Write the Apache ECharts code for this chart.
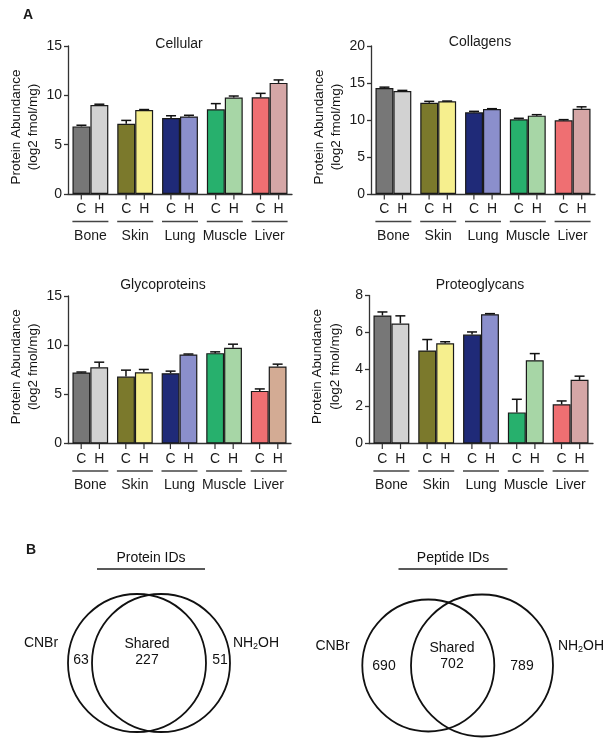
<!DOCTYPE html>
<html><head><meta charset="utf-8">
<script src="https://cdn.jsdelivr.net/npm/echarts@6/dist/echarts.min.js"></script>
<style>html,body{margin:0;padding:0;background:#fff}#c{width:614px;height:747px}</style>
</head><body><div id="c"></div>
<script>
// ---------- data ----------
const tissues = ['Bone', 'Skin', 'Lung', 'Muscle', 'Liver'];
const groupLabels = ['C', 'H'];

const cellularC    = [6.85, 7.12, 7.70, 8.58, 9.80];
const cellularCErr = [0.12, 0.34, 0.23, 0.58, 0.40];
const cellularH    = [9.02, 8.51, 7.86, 9.77, 11.26];
const cellularHErr = [0.08, 0.05, 0.12, 0.16, 0.30];

const collagensC    = [14.32, 12.34, 11.04, 10.09, 9.95];
const collagensCErr = [0.12, 0.18, 0.13, 0.14, 0.10];
const collagensH    = [13.92, 12.52, 11.49, 10.59, 11.53];
const collagensHErr = [0.08, 0.04, 0.04, 0.13, 0.25];

const glycoC    = [7.22, 6.81, 7.15, 9.19, 5.35];
const glycoCErr = [0.05, 0.65, 0.21, 0.13, 0.20];
const glycoH    = [7.76, 7.25, 9.05, 9.73, 7.83];
const glycoHErr = [0.51, 0.28, 0.05, 0.37, 0.24];

const proteoC    = [6.92, 5.03, 5.89, 1.68, 2.12];
const proteoCErr = [0.19, 0.59, 0.14, 0.71, 0.18];
const proteoH    = [6.49, 5.42, 6.99, 4.50, 3.44];
const proteoHErr = [0.41, 0.08, 0.03, 0.36, 0.20];

const yTicksCellular = [0, 5, 10, 15];
const yTicksCollagens = [0, 5, 10, 15, 20];
const yTicksGlyco = [0, 5, 10, 15];
const yTicksProteo = [0, 2, 4, 6, 8];

const proteinCounts = [63, 227, 51];
const peptideCounts = [690, 702, 789];
const setNames = ['CNBr', 'NH2OH'];

// ---------- styles / layout ----------
const FONT = '"Liberation Sans", Arial, Helvetica, sans-serif';
const TXT = '#1a1a1a';
const colorsC = ['#777777', '#7b792c', '#1f2a78', '#27b06d', '#ef6f72'];
const colorsH = ['#d2d2d2', '#f6ef8e', '#8b8fcc', '#a7d6a6', '#d5a6a6'];
const colorsHGlyco = ['#d2d2d2', '#f6ef8e', '#8b8fcc', '#a7d6a6', '#d3ab94'];

const panels = [
  {title: 'Cellular', tx: 179, ty: 37, namePad: [0, 14, 0, 0], grid: {left: 68, top: 46, width: 224, height: 148}, ticks: yTicksCellular, C: cellularC, CE: cellularCErr, H: cellularH, HE: cellularHErr, hc: colorsH},
  {title: 'Collagens', tx: 480, ty: 35, namePad: [0, 14, 0, 0], grid: {left: 371, top: 46, width: 224, height: 148}, ticks: yTicksCollagens, C: collagensC, CE: collagensCErr, H: collagensH, HE: collagensHErr, hc: colorsH},
  {title: 'Glycoproteins', tx: 163, ty: 278, namePad: [0, 0, 0, 6], grid: {left: 68, top: 296, width: 223, height: 147.5}, ticks: yTicksGlyco, C: glycoC, CE: glycoCErr, H: glycoH, HE: glycoHErr, hc: colorsHGlyco},
  {title: 'Proteoglycans', tx: 480, ty: 278, namePad: [0, 0, 0, 6], grid: {left: 369, top: 295.5, width: 224, height: 148}, ticks: yTicksProteo, C: proteoC, CE: proteoCErr, H: proteoH, HE: proteoHErr, hc: colorsH}
];

const xRich = {
  tk: {width: 1.2, height: 5, lineHeight: 6, backgroundColor: '#333'},
  g: {width: 17, height: 5, lineHeight: 6},
  c: {width: 18, align: 'center', fontSize: 14, lineHeight: 19, color: TXT, fontFamily: FONT},
  ln: {width: 36, height: 1.3, lineHeight: 5, backgroundColor: '#444'},
  t: {fontSize: 14, lineHeight: 24, color: TXT, fontFamily: FONT}
};

const grids = [], xAxes = [], yAxes = [], series = [], titles = [];

titles.push({text: 'A', left: 23, top: 8, padding: 0, textStyle: {fontSize: 14, fontWeight: 'bold', color: TXT, fontFamily: FONT}});
titles.push({text: 'B', left: 26, top: 543, padding: 0, textStyle: {fontSize: 14, fontWeight: 'bold', color: TXT, fontFamily: FONT}});

panels.forEach((p, i) => {
  grids.push(Object.assign({containLabel: false, outerBoundsMode: 'none'}, p.grid));
  titles.push({text: p.title, left: p.tx, top: p.ty, textAlign: 'center', padding: 0,
    textStyle: {fontSize: 14, fontWeight: 'normal', color: TXT, fontFamily: FONT}});
  xAxes.push({
    type: 'category', gridIndex: i, data: tissues,
    axisLine: {lineStyle: {color: '#333', width: 1.3}},
    axisTick: {show: false},
    axisLabel: {interval: 0, margin: 0, formatter: v => '{tk|}{g|}{tk|}\n{c|' + groupLabels[0] + '}{c|' + groupLabels[1] + '}\n{ln|}\n{t|' + v + '}', rich: xRich}
  });
  const tk = p.ticks;
  yAxes.push({
    type: 'value', gridIndex: i, min: tk[0], max: tk[tk.length - 1], interval: tk[1] - tk[0],
    axisLine: {show: true, lineStyle: {color: '#333', width: 1.3}},
    axisTick: {show: true, length: 4, lineStyle: {color: '#333', width: 1.3}},
    splitLine: {show: false},
    axisLabel: {fontSize: 14, color: TXT, fontFamily: FONT, margin: 6},
    name: 'Protein Abundance\n(log2 fmol/mg)', nameLocation: 'middle', nameGap: 25,
    nameTextStyle: {fontSize: 13.5, lineHeight: 17.6, color: '#111', fontFamily: FONT, padding: p.namePad}
  });
  const mkBar = (vals, cols, name) => ({
    type: 'bar', name: name, xAxisIndex: i, yAxisIndex: i, data: vals,
    barWidth: '40%', barGap: '0%',
    itemStyle: {color: prm => cols[prm.dataIndex], borderColor: '#1a1a1a', borderWidth: 1.2},
    emphasis: {disabled: true}, z: 2
  });
  series.push(mkBar(p.C, colorsC, 'C'));
  series.push(mkBar(p.H, p.hc, 'H'));
  const errData = [];
  tissues.forEach((t, j) => {
    errData.push([j, p.C[j], p.CE[j], 0]);
    errData.push([j, p.H[j], p.HE[j], 1]);
  });
  series.push({
    type: 'custom', xAxisIndex: i, yAxisIndex: i, data: errData, z: 5,
    encode: {x: 0, y: 1},
    renderItem: (params, api) => {
      const idx = api.value(0), v = api.value(1), e = api.value(2), s = api.value(3);
      const bw = api.size([1, 0])[0];
      const off = (s === 0 ? -0.2 : 0.2) * bw;
      const base = api.coord([idx, v]);
      const top = api.coord([idx, v + e]);
      const x = base[0] + off;
      const st = {stroke: '#111', lineWidth: 1.5};
      return {type: 'group', children: [
        {type: 'line', shape: {x1: x, y1: base[1], x2: x, y2: top[1]}, style: st},
        {type: 'line', shape: {x1: x - 5, y1: top[1], x2: x + 5, y2: top[1]}, style: st}
      ]};
    }
  });
});

// ---------- Venn diagrams ----------
const vennLayout = [
  {title: 'Protein IDs', tx: 151, ty: 550, lw: 108, grid: {left: -1, top: 583},
   circles: [[-12, 0, 69], [12, 0, 69]], namePos: [[-108, 20], [107, 20]], countPos: [[-68, 3], [-2, 11], [71, 3]], counts: proteinCounts},
  {title: 'Peptide IDs', tx: 453, ty: 550, lw: 109, grid: {left: 305, top: 585.5},
   circles: [[-26.7, 0, 66], [27, 0, 71]], namePos: [[-122.5, 19.5], [126, 19.5]], countPos: [[-71, -1], [-3, 9.5], [67, -1]], counts: peptideCounts}
];
const nameFmt = n => n === 'NH2OH' ? '{n|NH}{s|2}{n|OH}' : '{n|' + n + '}';
const vRich = {
  n: {fontSize: 14, lineHeight: 16, fill: '#111', fontFamily: FONT},
  s: {fontSize: 9, verticalAlign: 'bottom', fill: '#111', fontFamily: FONT}
};

vennLayout.forEach((v, k) => {
  const gi = 4 + k;
  grids.push({left: v.grid.left, top: v.grid.top, width: 300, height: 160, outerBoundsMode: 'none'});
  xAxes.push({type: 'value', gridIndex: gi, min: -150, max: 150, show: false});
  yAxes.push({type: 'value', gridIndex: gi, min: -80, max: 80, show: false});
  titles.push({text: '{t|' + v.title + '}\n{ln|}', left: v.tx, top: v.ty, textAlign: 'center', padding: 0,
    textStyle: {fontWeight: 'normal', color: '#111', rich: {
      t: {fontSize: 14, lineHeight: 16, color: '#111', fontFamily: FONT, fontWeight: 'normal'},
      ln: {width: v.lw, height: 1.5, lineHeight: 6, backgroundColor: '#222'}
    }}});
  series.push({
    type: 'custom', xAxisIndex: gi, yAxisIndex: gi, data: v.circles, z: 3,
    encode: {x: 0, y: 1}, clip: false,
    renderItem: (params, api) => {
      const c = api.coord([api.value(0), api.value(1)]);
      const r = api.size([api.value(2), 0])[0];
      return {type: 'circle', shape: {cx: c[0], cy: c[1], r: r}, style: {fill: 'none', stroke: '#111', lineWidth: 1.8}};
    }
  });
  const labTexts = [];
  const labData = [];
  v.namePos.forEach((pos, m) => { labData.push([pos[0], pos[1], labTexts.length]); labTexts.push(nameFmt(setNames[m])); });
  v.countPos.forEach((pos, m) => {
    labData.push([pos[0], pos[1], labTexts.length]);
    labTexts.push(m === 1 ? '{n|Shared}\n{n|' + v.counts[m] + '}' : '{n|' + v.counts[m] + '}');
  });
  series.push({
    type: 'custom', xAxisIndex: gi, yAxisIndex: gi, data: labData, z: 4, clip: false, silent: true,
    encode: {x: 0, y: 1},
    renderItem: (params, api) => {
      const c = api.coord([api.value(0), api.value(1)]);
      return {type: 'text', x: c[0], y: c[1], style: {
        text: labTexts[api.value(2)], align: 'center', verticalAlign: 'middle',
        fill: '#111', font: '14px ' + FONT, rich: vRich
      }};
    }
  });
});

const chart = echarts.init(document.getElementById('c'), null, {renderer: 'canvas'});
chart.setOption({
  animation: false,
  backgroundColor: '#fff',
  textStyle: {fontFamily: FONT},
  title: titles,
  grid: grids,
  xAxis: xAxes,
  yAxis: yAxes,
  series: series
});
</script>
</body></html>
